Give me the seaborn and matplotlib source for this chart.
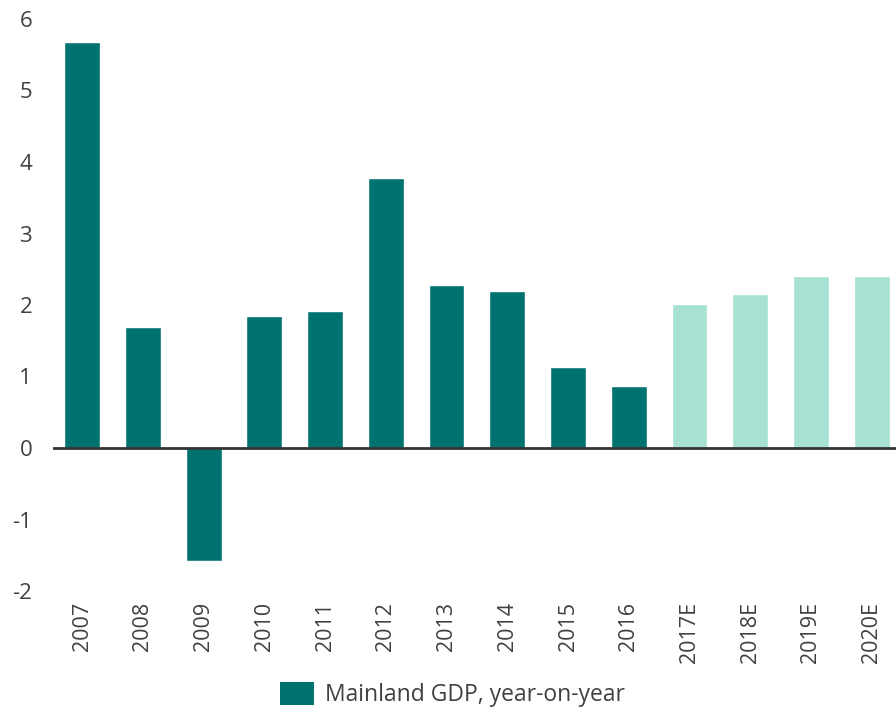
import matplotlib
matplotlib.use("Agg")
import matplotlib.pyplot as plt
import seaborn as sns
import pandas as pd
from matplotlib.patches import Patch

years = ["2007", "2008", "2009", "2010", "2011", "2012", "2013", "2014",
         "2015", "2016", "2017E", "2018E", "2019E", "2020E"]
gdp = [5.68, 1.69, -1.58, 1.84, 1.91, 3.78, 2.28, 2.19, 1.13, 0.87,
       2.02, 2.15, 2.41, 2.41]
kind = ["Actual"] * 10 + ["Estimate"] * 4
legend_label = "Mainland GDP, year-on-year"

dark = "#007370"
light = "#A6E1D3"
text_color = "#404040"

sns.set_theme(style="white")
plt.rcParams["font.family"] = ["Open Sans", "DejaVu Sans"]
plt.rcParams["axes.unicode_minus"] = False

df = pd.DataFrame({"year": years, "gdp": gdp, "kind": kind})

fig = plt.figure(figsize=(8.96, 7.12), dpi=100)
ax = fig.add_axes([53 / 896, (712 - 591) / 712, (896 - 53) / 896, (591 - 19) / 712])

sns.barplot(data=df, x="year", y="gdp", hue="kind", order=years,
            palette={"Actual": dark, "Estimate": light}, dodge=False,
            width=0.59, saturation=1, ax=ax, legend=False)

ax.set_ylim(-2, 6)
ax.set_xlim(-0.48, 13.4)
ax.set_yticks(range(-2, 7))
ax.axhline(0, color="#333333", lw=2, zorder=3)
for s in ax.spines.values():
    s.set_visible(False)
ax.set_xlabel("")
ax.set_ylabel("")
ax.tick_params(axis="x", rotation=90, labelsize=15.5, colors=text_color, length=0, pad=8)
ax.tick_params(axis="y", labelsize=16, colors=text_color, length=0, pad=15)
for lbl in ax.get_yticklabels():
    lbl.set_horizontalalignment("right")

handle = Patch(facecolor=dark, edgecolor="none", label=legend_label)
fig.legend(handles=[handle], loc="lower center", bbox_to_anchor=(0.505, -0.022),
           frameon=False, fontsize=16.5, labelcolor=text_color,
           handlelength=1.5, handleheight=1.2, handletextpad=0.5)

fig.savefig("out.png", dpi=100)
